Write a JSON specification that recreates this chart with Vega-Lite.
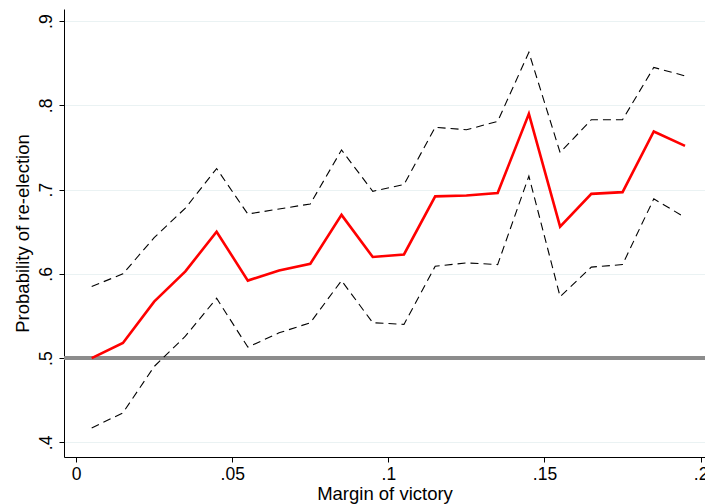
{
  "$schema": "https://vega.github.io/schema/vega-lite/v6.json",
  "width": 641,
  "height": 448,
  "autosize": {"type": "none"},
  "padding": {"left": 64, "top": 9, "right": 0, "bottom": 47},
  "background": "white",
  "config": {
    "view": {"stroke": null},
    "font": "Liberation Sans",
    "axis": {
      "domainColor": "black",
      "tickColor": "black",
      "labelColor": "black",
      "titleColor": "black",
      "labelFontSize": 17.5,
      "titleFontSize": 18.5,
      "titleFontWeight": "normal",
      "tickSize": 5
    }
  },
  "data": {
    "values": [
      {"margin": 0.005, "est": 0.500, "lo": 0.417, "hi": 0.585},
      {"margin": 0.015, "est": 0.518, "lo": 0.435, "hi": 0.600},
      {"margin": 0.025, "est": 0.567, "lo": 0.490, "hi": 0.643},
      {"margin": 0.035, "est": 0.603, "lo": 0.526, "hi": 0.678},
      {"margin": 0.045, "est": 0.650, "lo": 0.571, "hi": 0.725},
      {"margin": 0.055, "est": 0.592, "lo": 0.513, "hi": 0.671},
      {"margin": 0.065, "est": 0.604, "lo": 0.530, "hi": 0.677},
      {"margin": 0.075, "est": 0.612, "lo": 0.542, "hi": 0.683},
      {"margin": 0.085, "est": 0.670, "lo": 0.592, "hi": 0.747},
      {"margin": 0.095, "est": 0.620, "lo": 0.542, "hi": 0.698},
      {"margin": 0.105, "est": 0.623, "lo": 0.540, "hi": 0.706},
      {"margin": 0.115, "est": 0.692, "lo": 0.609, "hi": 0.774},
      {"margin": 0.125, "est": 0.693, "lo": 0.613, "hi": 0.771},
      {"margin": 0.135, "est": 0.696, "lo": 0.611, "hi": 0.781},
      {"margin": 0.145, "est": 0.790, "lo": 0.716, "hi": 0.863},
      {"margin": 0.155, "est": 0.656, "lo": 0.573, "hi": 0.744},
      {"margin": 0.165, "est": 0.695, "lo": 0.608, "hi": 0.783},
      {"margin": 0.175, "est": 0.697, "lo": 0.611, "hi": 0.783},
      {"margin": 0.185, "est": 0.769, "lo": 0.689, "hi": 0.845},
      {"margin": 0.195, "est": 0.752, "lo": 0.667, "hi": 0.835}
    ]
  },
  "encoding": {
    "x": {
      "field": "margin",
      "type": "quantitative",
      "title": "Margin of victory",
      "scale": {"domain": [-0.00387, 0.2014], "nice": false, "zero": false},
      "axis": {
        "values": [0, 0.05, 0.1, 0.15, 0.2],
        "grid": false,
        "labelExpr": "datum.value == 0 ? '0' : slice(format(datum.value, '~g'), 1)",
        "labelPadding": 3,
        "titlePadding": 2,
        "labelFlush": false,
        "labelOverlap": false
      }
    }
  },
  "layer": [
    {
      "mark": {"type": "rule", "color": "#8c8c8c", "strokeWidth": 4},
      "encoding": {"y": {"datum": 0.5, "type": "quantitative"}, "x": null}
    },
    {
      "mark": {"type": "line", "color": "black", "strokeWidth": 1.1, "strokeDash": [8, 5]},
      "encoding": {
        "y": {
          "field": "lo",
          "type": "quantitative",
          "title": "Probability of re-election",
          "scale": {"domain": [0.3826, 0.9144], "nice": false, "zero": false},
          "axis": {
            "values": [0.4, 0.5, 0.6, 0.7, 0.8, 0.9],
            "grid": true,
            "gridColor": "#eaf2f3",
            "gridWidth": 1.2,
            "labelAngle": -90,
            "labelAlign": "center",
            "labelBaseline": "bottom",
            "labelPadding": 4,
            "titlePadding": 5,
            "labelExpr": "slice(format(datum.value, '~g'), 1)",
            "labelFlush": false,
            "labelOverlap": false
          }
        }
      }
    },
    {
      "mark": {"type": "line", "color": "black", "strokeWidth": 1.1, "strokeDash": [8, 5]},
      "encoding": {"y": {"field": "hi", "type": "quantitative"}}
    },
    {
      "mark": {"type": "line", "color": "#ff0000", "strokeWidth": 2.6},
      "encoding": {"y": {"field": "est", "type": "quantitative"}}
    }
  ]
}
